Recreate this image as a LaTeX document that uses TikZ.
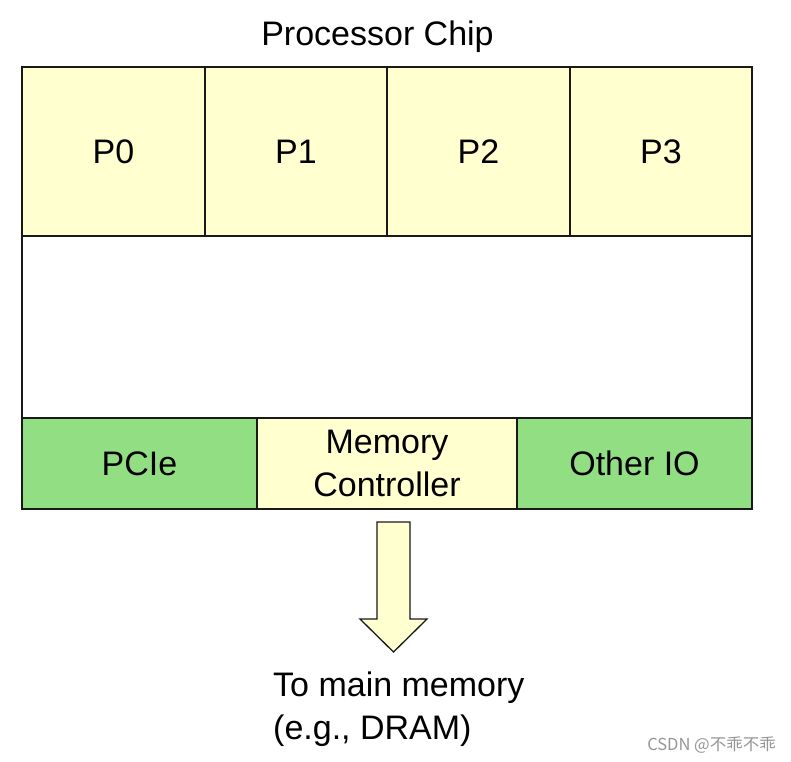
\documentclass[tikz,border=0pt]{standalone}
\usepackage{fontspec}
\setmainfont{Liberation Sans}
\newfontfamily\cjkfont{Noto Sans CJK SC}
\definecolor{cellyellow}{RGB}{255,255,208}
\definecolor{cellgreen}{RGB}{146,223,131}
\definecolor{wmgray}{RGB}{150,150,150}
\begin{document}
\begin{tikzpicture}[x=1pt,y=-1pt,
  bigtext/.style={font=\fontsize{34}{43}\selectfont},
  cell/.style={draw=black!90, line width=1.3pt, rectangle, inner sep=0pt, bigtext, align=center},
  ycell/.style={cell, fill=cellyellow},
  gcell/.style={cell, fill=cellgreen},
  bigarrow/.style={draw=black!90, line width=1.3pt, fill=cellyellow, line join=miter}]
\useasboundingbox (0,0) rectangle (791,761);
\fill[white] (0,0) rectangle (791,761);
\node[cell, fill=white, minimum width=730pt, minimum height=442pt] (chip) at (387,288) {};
\node[bigtext, anchor=base] (title) at (377.5,45) {Processor Chip};
\node[ycell, minimum width=183pt, minimum height=169pt] (p0) at (113.5,151.5) {P0};
\node[ycell, minimum width=182pt, minimum height=169pt] (p1) at (296,151.5) {P1};
\node[ycell, minimum width=183pt, minimum height=169pt] (p2) at (478.5,151.5) {P2};
\node[ycell, minimum width=182pt, minimum height=169pt] (p3) at (661,151.5) {P3};
\node[gcell, minimum width=235pt, minimum height=91pt] (pcie) at (139.5,463.5) {PCIe};
\node[ycell, minimum width=260pt, minimum height=91pt] (mc) at (387,463.5) {\raisebox{-2pt}{\parbox{250pt}{\centering Memory\\Controller}}};
\node[gcell, minimum width=235pt, minimum height=91pt] (oio) at (634.5,463.5) {Other IO};
\draw[bigarrow] (377,522) -- (410,522) -- (410,619) -- (427,619) -- (393.5,652) -- (360,619) -- (377,619) -- cycle;
\node[bigtext, anchor=base west, align=left, inner sep=0pt] (dest) at (273,739) {To main memory\\(e.g., DRAM)};
\node[anchor=base east, inner sep=0pt, text=wmgray, font=\cjkfont\fontsize{16.5}{20}\selectfont] (wm) at (776,750) {CSDN @不乖不乖};
\end{tikzpicture}
\end{document}
